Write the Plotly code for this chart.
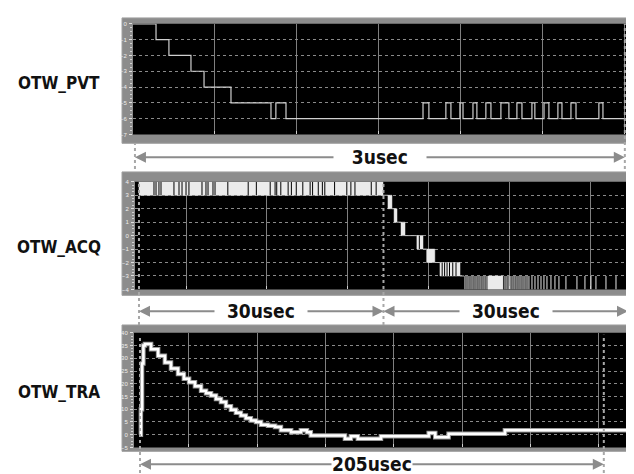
import plotly.graph_objects as go

W, H = 634, 474

# ---------------- OTW_PVT : 3 usec window (time in usec) ----------------
pvt_t = [-0.012, 0.129, 0.208, 0.343, 0.423, 0.588, 0.833, 0.863, 0.925,
         1.764, 1.800, 1.904, 1.935, 1.990, 2.009, 2.070, 2.094, 2.149, 2.180,
         2.241, 2.290, 2.339, 2.370, 2.431, 2.449, 2.505, 2.535, 2.590, 2.615,
         2.670, 2.701, 2.841, 2.866, 3.05]
pvt_v = [0, -1, -2, -3, -4, -5, -6, -5, -6,
         -5, -6, -5, -6, -5, -6, -5, -6, -5, -6,
         -5, -6, -5, -6, -5, -6, -5, -6, -5, -6,
         -5, -6, -5, -6, -6]
pvt_cursors = [0.0, 3.0]

# ---------------- OTW_ACQ : 2 x 30 usec window ----------------
# dense toggling bands: lower level, start, end (usec)
acq_band_lo = [3, 2, 1, 0, -1, -2, -3, -4]
acq_band_t0 = [0.00, 30.55, 31.30, 32.15, 34.10, 35.30, 36.93, 42.82]
acq_band_t1 = [29.94, 31.04, 31.66, 32.64, 34.85, 36.30, 39.39, 44.66]
# quiet stretches inside the bands (black stripes)
acq_gap_t = [1.84, 2.09, 2.45, 2.70, 4.29, 4.91, 5.28, 5.77, 6.13, 7.73, 8.22,
             8.47, 9.08, 9.33, 10.9, 13.4, 14.4, 16.1, 16.7, 16.9, 17.4, 18.3,
             18.7, 19.3, 20.1, 21.0, 21.3, 22.0, 22.5, 22.8, 24.0, 25.5, 26.0,
             26.5, 28.5, 29.1,
             34.4,
             37.2, 37.5, 37.8, 38.1, 38.5, 38.9]
acq_gap_lo = [3] * 36 + [-1] + [-3] * 6
# level held between bands: level, start, end
acq_hold_v = [3, 2, 1, 0, -1, -2, -3]
acq_hold_t0 = [29.94, 31.04, 31.66, 32.64, 34.85, 36.30, 39.39]
acq_hold_t1 = [30.55, 31.30, 32.15, 34.10, 35.30, 36.93, 39.90]
# isolated toggles between -4 and -3
acq_pulse_t = [40.00, 40.25, 40.49, 40.74, 40.98, 41.23, 41.47, 41.72, 41.96,
               42.21, 42.45, 42.70,
               44.91, 45.15, 45.40, 45.64, 45.89, 46.13, 46.38, 46.63, 46.87,
               47.12, 47.36, 47.61, 47.85, 48.22, 48.59, 48.96, 49.33, 49.69,
               50.06, 50.55, 51.04, 51.53,
               52.39, 53.74, 54.72, 55.46, 56.07, 57.30, 58.53]
acq_cursors = [0.0, 30.0, 60.0]

# ---------------- OTW_TRA : 205 usec window ----------------
tra_t = [0, 0.4, 0.9, 1.5, 2.2, 4.9, 8.0, 11.0, 13.7, 16.8, 19.4, 21.7, 24.3,
         27.0, 29.2, 31.4, 33.6, 35.8, 38.0, 40.2, 42.4, 44.6, 46.8, 49.0,
         51.3, 53.5, 56.6, 59.7, 62.3, 66.8, 71.1, 73.8, 75.5, 90.6, 93.2,
         96.3, 106.5, 127.6, 130.5, 136.4, 161.3, 217.9]
tra_v = [0, 10, 28, 35, 35.6, 33.6, 31, 28.4, 26, 23.8, 22, 20.6, 19,
         17.3, 16.3, 15.4, 14, 12.8, 11.2, 9.8, 8.6, 7.5, 6.5, 5.6,
         5.0, 3.9, 3.5, 3.0, 1.7, 1.0, 1.7, 1.0, -0.3, -1.6, -0.6,
         -1.6, -0.6, 0.7, -1.0, 0.4, 1.7, 1.7]
tra_cursors = [0.0, 205.0]

labels = ["OTW_PVT", "OTW_ACQ", "OTW_TRA"]
spans = [("3usec", 0.0, 3.0), ("30usec", 0.0, 30.0), ("30usec", 30.0, 60.0), ("205usec", 0.0, 205.0)]
span_pads = [3, 2, 2, 0]  # blank space kept around each span text


def px(x):
    return x / W


def py(y):
    return 1 - y / H


fig = go.Figure()

TRACE = "#d0d0d0"
fig.add_trace(go.Scatter(x=pvt_t, y=pvt_v, mode="lines", line=dict(color=TRACE, width=1.2, shape="hv"),
                         xaxis="x", yaxis="y", hoverinfo="skip"))

# ACQ bands
bx, by = [], []
for lo, a, b in zip(acq_band_lo, acq_band_t0, acq_band_t1):
    bx += [a, b, b, a, a, None]
    by += [lo, lo, lo + 1, lo + 1, lo, None]
fig.add_trace(go.Scatter(x=bx, y=by, mode="lines", fill="toself", fillcolor="#ebebeb",
                         line=dict(color="#ebebeb", width=0.5), xaxis="x2", yaxis="y2", hoverinfo="skip"))
gx, gy = [], []
for t, lo in zip(acq_gap_t, acq_gap_lo):
    gx += [t, t, None]
    gy += [lo, lo + 1, None]
fig.add_trace(go.Scatter(x=gx, y=gy, mode="lines", line=dict(color="#000000", width=1),
                         xaxis="x2", yaxis="y2", hoverinfo="skip"))
hx, hy = [], []
for v, a, b in zip(acq_hold_v, acq_hold_t0, acq_hold_t1):
    hx += [a, b, None]
    hy += [v, v, None]
fig.add_trace(go.Scatter(x=hx, y=hy, mode="lines", line=dict(color="#bdbdbd", width=1),
                         xaxis="x2", yaxis="y2", hoverinfo="skip"))
qx, qy = [], []
for t in acq_pulse_t:
    qx += [t, t, None]
    qy += [-4, -3, None]
fig.add_trace(go.Scatter(x=qx, y=qy, mode="lines", line=dict(color="#e6e6e6", width=1),
                         xaxis="x2", yaxis="y2", hoverinfo="skip"))

# TRA
fig.add_trace(go.Scatter(x=tra_t, y=tra_v, mode="lines", line=dict(color="#9a9a9a", width=4.5, shape="hv"),
                         xaxis="x3", yaxis="y3", hoverinfo="skip"))
fig.add_trace(go.Scatter(x=tra_t, y=tra_v, mode="lines", line=dict(color="#ffffff", width=2.5, shape="hv"),
                         xaxis="x3", yaxis="y3", hoverinfo="skip"))

# panel geometry (pixels): black plot areas and grey frames
plots = [(125, 625, 13, 125), (127, 626, 173, 282), (126, 625, 326, 442)]
frames = [(114, 628, 7, 134), (114, 628, 163, 288), (114, 630, 318, 446)]
xranges = [[-0.012, 3.05], [-0.49, 60.74], [-2.65, 217.9]]
xgrid = [(0.49, 0.502), (5.77, 9.93), (21.65, 30.2)]
yranges = [[-7, 0], [-4, 4], [-5, 40]]
ydt = [1, 1, 5]
yminor = [0.25, 0.25, 1.25]

axis_font = dict(family="Liberation Sans, Arial, sans-serif", size=6, color="#eeeeee")
for i in range(3):
    sx = "" if i == 0 else str(i + 1)
    x0, x1, y0, y1 = plots[i]
    fig.layout["xaxis" + sx] = dict(
        domain=[px(x0), px(x1)], range=xranges[i], anchor="y" + sx,
        showticklabels=False, tick0=xgrid[i][0], dtick=xgrid[i][1],
        showgrid=True, gridcolor="#7f7f7f", gridwidth=1,
        ticks="inside", ticklen=3, tickcolor="#cfcfcf", zeroline=False,
        showline=False, fixedrange=True)
    fig.layout["yaxis" + sx] = dict(
        domain=[py(y1), py(y0)], range=yranges[i], anchor="x" + sx,
        dtick=ydt[i], tickfont=axis_font, ticks="outside", ticklen=3,
        tickcolor="#e0e0e0", tickwidth=1, ticklabelstandoff=1,
        minor=dict(dtick=yminor[i], ticks="outside", ticklen=2, tickcolor="#d0d0d0", showgrid=False),
        showgrid=True, gridcolor="#8a8a8a", griddash="dot", gridwidth=1,
        zeroline=False, showline=False, fixedrange=True)

shapes = []
for (x0, x1, y0, y1) in frames:
    shapes.append(dict(type="rect", xref="paper", yref="paper", x0=px(x0), x1=px(x1), y0=py(y1), y1=py(y0),
                       fillcolor="#8c8c8c", line=dict(color="#a0a0a0", width=1), layer="below"))
for (x0, x1, y0, y1) in plots:
    shapes.append(dict(type="rect", xref="paper", yref="paper", x0=px(x0), x1=px(x1), y0=py(y1), y1=py(y0),
                       fillcolor="#000000", line=dict(width=0), layer="below"))

CUR = "#a8a8a8"
# cursor extents in pixel rows (top, bottom)
cur_rows = {
    "x": [(134, 160), (13, 160)],
    "x2": [(173, 318), (173, 318), (173, 318)],
    "x3": [(330, 474), (328, 474)],
}
for ref, curs in (("x", pvt_cursors), ("x2", acq_cursors), ("x3", tra_cursors)):
    for c, (ya, yb) in zip(curs, cur_rows[ref]):
        shapes.append(dict(type="line", xref=ref, yref="paper", x0=c, x1=c, y0=py(yb), y1=py(ya),
                           line=dict(color=CUR, width=2, dash="dot"), layer="above"))
fig.layout.shapes = shapes

LBL = dict(family="Liberation Sans Narrow, Noto Sans ExtraCondensed, Noto Sans Condensed, DejaVu Sans Condensed, sans-serif",
           size=17, color="#111111", weight=700)
SPN = dict(LBL, size=19)
ann = []
label_rows = [73, 239, 386]
for text, row in zip(labels, label_rows):
    ann.append(dict(text=text, x=px(51), y=py(row), xref="paper", yref="paper", showarrow=False,
                    font=LBL, xanchor="center", yanchor="middle"))

span_rows = {"x": 148, "x2": 304, "x3": 459}
span_refs = ["x", "x2", "x2", "x3"]
for (text, a, b), ref in zip(spans, span_refs):
    yy = py(span_rows[ref])
    mid = (a + b) / 2
    for end in (a, b):
        ann.append(dict(text="", x=end, y=yy, xref=ref, yref="paper", ax=mid, ay=0, axref=ref, ayref="pixel",
                        showarrow=True, arrowhead=2, arrowsize=1.1, arrowwidth=2, arrowcolor="#8c8c8c",
                        standoff=0, startstandoff=0))
for (text, a, b), ref, pad in zip(spans, span_refs, span_pads):
    yy = py(span_rows[ref])
    sp = "&nbsp;" * pad
    ann.append(dict(text=sp + text + sp, x=(a + b) / 2, y=yy, xref=ref, yref="paper", showarrow=False,
                    font=SPN, bgcolor="#ffffff", borderpad=0, xanchor="center", yanchor="middle"))
fig.layout.annotations = ann

fig.update_layout(width=W, height=H, margin=dict(l=0, r=0, t=0, b=0), paper_bgcolor="#ffffff",
                  plot_bgcolor="#000000", showlegend=False)

fig.write_html("out.html")
